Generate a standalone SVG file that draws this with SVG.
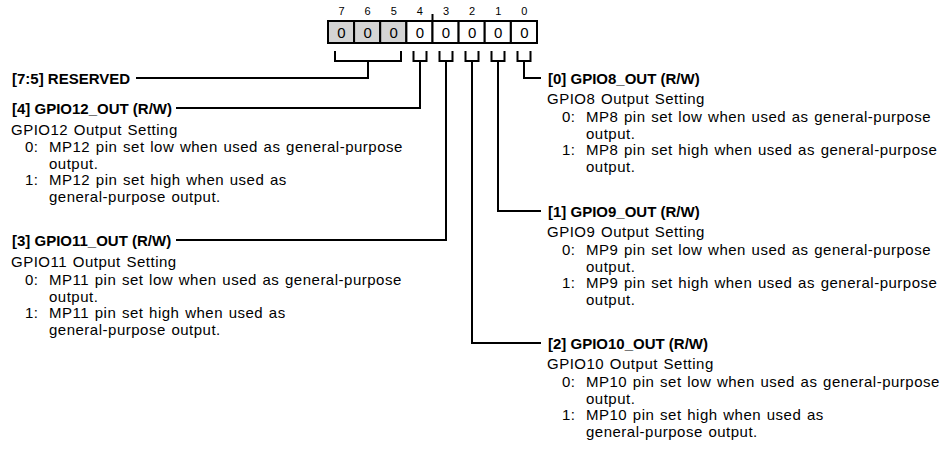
<svg xmlns="http://www.w3.org/2000/svg" width="946" height="453" viewBox="0 0 946 453">
<style>
text{font-family:"Liberation Sans",Arial,sans-serif;fill:#000}
.bn{font-size:11px;text-anchor:middle}
.bv{font-size:15px;text-anchor:middle}
.lbl{font-size:15px;font-weight:bold}
.txt{font-size:15px;letter-spacing:0.5px;word-spacing:1px}
.box{fill:#fff;stroke:#000;stroke-width:2}
.res{fill:#d4d4d4}
.conn{fill:none;stroke:#000;stroke-width:2;stroke-linejoin:miter;stroke-linecap:square}
</style>
<rect width="946" height="453" fill="#fff"/>
<g id="register">
<text class="bn" x="341.5" y="15">7</text>
<text class="bn" x="367.6" y="15">6</text>
<text class="bn" x="393.7" y="15">5</text>
<text class="bn" x="419.9" y="15">4</text>
<text class="bn" x="446" y="15">3</text>
<text class="bn" x="472.1" y="15">2</text>
<text class="bn" x="498.2" y="15">1</text>
<text class="bn" x="524.4" y="15">0</text>
<rect class="box res" x="328" y="21" width="26.1" height="22"/>
<rect class="box res" x="354.1" y="21" width="26.1" height="22"/>
<rect class="box res" x="380.2" y="21" width="26.1" height="22"/>
<rect class="box" x="406.4" y="21" width="26.1" height="22"/>
<rect class="box" x="432.5" y="21" width="26.1" height="22"/>
<rect class="box" x="458.6" y="21" width="26.1" height="22"/>
<rect class="box" x="484.7" y="21" width="26.1" height="22"/>
<rect class="box" x="510.9" y="21" width="26.1" height="22"/>
<line x1="432.5" y1="14" x2="432.5" y2="21" stroke="#000" stroke-width="2"/>
<text class="bv" x="341.5" y="37.5">0</text>
<text class="bv" x="367.6" y="37.5">0</text>
<text class="bv" x="393.7" y="37.5">0</text>
<text class="bv" x="419.9" y="37.5">0</text>
<text class="bv" x="446" y="37.5">0</text>
<text class="bv" x="472.1" y="37.5">0</text>
<text class="bv" x="498.2" y="37.5">0</text>
<text class="bv" x="524.4" y="37.5">0</text>
</g>
<g id="connectors">
<path class="conn" d="M335 52V61H401V52M368 61V78H137"/>
<path class="conn" d="M413.5 52V61H426.5V52M420 61V108H177"/>
<path class="conn" d="M439.5 52V61H452.5V52M446 61V240H177"/>
<path class="conn" d="M465.5 52V61H478.5V52M472 61V343H540"/>
<path class="conn" d="M491.5 52V61H504.5V52M498 61V211H540"/>
<path class="conn" d="M517.5 52V61H530.5V52M524 61V78H540"/>
</g>
<g id="reserved">
<text class="lbl" x="12" y="83.5">[7:5] RESERVED</text>
</g>
<g id="bit4">
<text class="lbl" x="12" y="113.5">[4] GPIO12_OUT (R/W)</text>
<text class="txt" x="11" y="134.5">GPIO12 Output Setting</text>
<text class="txt" x="25" y="152">0:</text>
<text class="txt" x="49" y="152">MP12 pin set low when used as general-purpose</text>
<text class="txt" x="49" y="168.5">output.</text>
<text class="txt" x="25" y="185">1:</text>
<text class="txt" x="49" y="185">MP12 pin set high when used as</text>
<text class="txt" x="49" y="201.5">general-purpose output.</text>
</g>
<g id="bit3">
<text class="lbl" x="12" y="245.5">[3] GPIO11_OUT (R/W)</text>
<text class="txt" x="11" y="266.5">GPIO11 Output Setting</text>
<text class="txt" x="25" y="285">0:</text>
<text class="txt" x="49" y="285">MP11 pin set low when used as general-purpose</text>
<text class="txt" x="49" y="301.5">output.</text>
<text class="txt" x="25" y="318">1:</text>
<text class="txt" x="49" y="318">MP11 pin set high when used as</text>
<text class="txt" x="49" y="334.5">general-purpose output.</text>
</g>
<g id="bit0">
<text class="lbl" x="548" y="83.5">[0] GPIO8_OUT (R/W)</text>
<text class="txt" x="547" y="103.5">GPIO8 Output Setting</text>
<text class="txt" x="562" y="122">0:</text>
<text class="txt" x="586" y="122">MP8 pin set low when used as general-purpose</text>
<text class="txt" x="586" y="138.5">output.</text>
<text class="txt" x="562" y="155">1:</text>
<text class="txt" x="586" y="155">MP8 pin set high when used as general-purpose</text>
<text class="txt" x="586" y="171.5">output.</text>
</g>
<g id="bit1">
<text class="lbl" x="548" y="216.5">[1] GPIO9_OUT (R/W)</text>
<text class="txt" x="547" y="236.5">GPIO9 Output Setting</text>
<text class="txt" x="562" y="255">0:</text>
<text class="txt" x="586" y="255">MP9 pin set low when used as general-purpose</text>
<text class="txt" x="586" y="271.5">output.</text>
<text class="txt" x="562" y="288">1:</text>
<text class="txt" x="586" y="288">MP9 pin set high when used as general-purpose</text>
<text class="txt" x="586" y="304.5">output.</text>
</g>
<g id="bit2">
<text class="lbl" x="548" y="348.5">[2] GPIO10_OUT (R/W)</text>
<text class="txt" x="547" y="368.5">GPIO10 Output Setting</text>
<text class="txt" x="562" y="387">0:</text>
<text class="txt" x="586" y="387">MP10 pin set low when used as general-purpose</text>
<text class="txt" x="586" y="403.5">output.</text>
<text class="txt" x="562" y="420">1:</text>
<text class="txt" x="586" y="420">MP10 pin set high when used as</text>
<text class="txt" x="586" y="436.5">general-purpose output.</text>
</g>
</svg>
